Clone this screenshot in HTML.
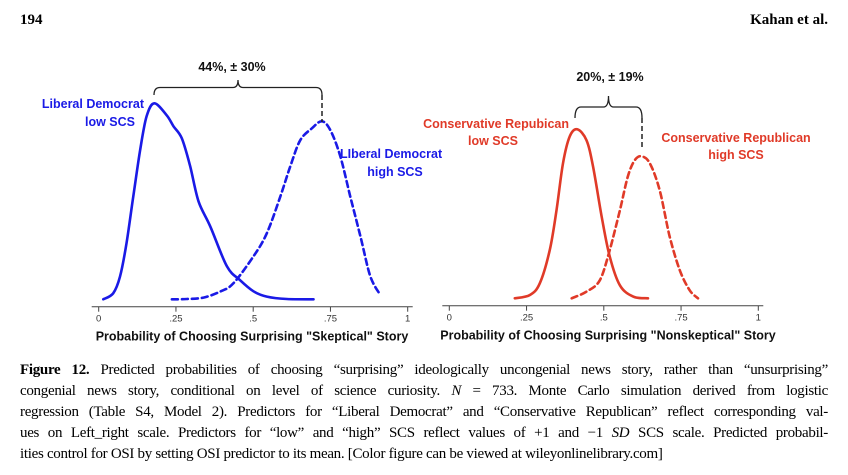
<!DOCTYPE html>
<html><head><meta charset="utf-8"><style>
body{margin:0;background:#fff;width:848px;height:475px;overflow:hidden;position:relative;font-family:"Liberation Serif",serif}
.hdr{position:absolute;top:12px;font-weight:bold;font-size:15px}
.cap{position:absolute;left:20px;width:808px;font-size:15px;letter-spacing:-0.3px;line-height:21px;white-space:nowrap}
.cap div{text-align:justify;text-align-last:justify;height:21px;white-space:normal}
.cap div.last{text-align-last:left}
</style></head><body>
<div class="hdr" style="left:20px">194</div>
<div class="hdr" style="right:20px">Kahan et al.</div>
<svg id="chart" width="848" height="350" style="position:absolute;left:0;top:0"></svg>
<div class="cap" style="top:360px">
<div><b>Figure 12.</b> Predicted probabilities of choosing “surprising” ideologically uncongenial news story, rather than “unsurprising”</div>
<div>congenial news story, conditional on level of science curiosity. <i>N</i> = 733. Monte Carlo simulation derived from logistic</div>
<div>regression (Table S4, Model 2). Predictors for “Liberal Democrat” and “Conservative Republican” reflect corresponding val-</div>
<div>ues on Left_right scale. Predictors for “low” and “high” SCS reflect values of +1 and −1 <i>SD</i> SCS scale. Predicted probabil-</div>
<div class="last">ities control for OSI by setting OSI predictor to its mean. [Color figure can be viewed at wileyonlinelibrary.com]</div>
</div>
<script>
const tickValues=[0,0.25,0.5,0.75,1];
const tickLabels=["0",".25",".5",".75","1"];
const libLowX=[0.015,0.047,0.069,0.09,0.112,0.134,0.155,0.18,0.22,0.242,0.269,0.296,0.323,0.361,0.415,0.458,0.501,0.544,0.609,0.695];
const libLowY=[0,6,22.7,56,103,149,183,196,184,173,161,133,98,73,33,19,8,2.7,0.3,0];
const libHighX=[0.237,0.285,0.339,0.393,0.436,0.501,0.544,0.588,0.62,0.652,0.69,0.722,0.75,0.782,0.814,0.847,0.879,0.912];
const libHighY=[0,0.3,1.7,7.7,16,43,66,103,133,159,171,178,169,143,103,63,23,4];
const conLowX=[0.212,0.261,0.293,0.325,0.347,0.368,0.39,0.414,0.444,0.465,0.493,0.519,0.552,0.595,0.643];
const conLowY=[0,3.3,15,48,88,135,162,169,158,132,82,42,13,1.7,0];
const conHighX=[0.396,0.444,0.487,0.519,0.552,0.578,0.6,0.622,0.649,0.681,0.713,0.746,0.778,0.805];
const conHighY=[0,6.7,18,48,88,122,138,142,135,108,62,28,8,0];

const NS="http://www.w3.org/2000/svg";
const svg=document.getElementById('chart');
function mk(tag,attrs,parent){const e=document.createElementNS(NS,tag);for(const k in attrs)e.setAttribute(k,attrs[k]);(parent||svg).appendChild(e);return e;}
const BLUE="#1a1ae6",RED="#e03a28",FONT='"Liberation Sans",sans-serif';
function smooth(pts){
  let d='M'+pts[0][0].toFixed(1)+','+pts[0][1].toFixed(1);
  for(let i=0;i<pts.length-1;i++){
    const p0=pts[Math.max(0,i-1)],p1=pts[i],p2=pts[i+1],p3=pts[Math.min(pts.length-1,i+2)];
    const c1=[p1[0]+(p2[0]-p0[0])/6,p1[1]+(p2[1]-p0[1])/6];
    const c2=[p2[0]-(p3[0]-p1[0])/6,p2[1]-(p3[1]-p1[1])/6];
    d+=` C${c1[0].toFixed(1)},${c1[1].toFixed(1)} ${c2[0].toFixed(1)},${c2[1].toFixed(1)} ${p2[0].toFixed(1)},${p2[1].toFixed(1)}`;
  }
  return d;
}
function panel(x0,axisY,baseY,name,title,titleX,series){
  const sx=v=>x0+v*309, sy=d=>baseY-d;
  const g=mk('g',{});
  
  
  const ax=mk('line',{x1:x0-7,x2:x0+314,y1:axisY,y2:axisY,stroke:'#444','stroke-width':1},g);
  
  
  tickValues.forEach((v,i)=>{
    const t=mk('line',{x1:sx(v),x2:sx(v),y1:axisY,y2:axisY+5,stroke:'#444'},g);
    
    
    const l=mk('text',{x:sx(v),y:axisY+15,'text-anchor':'middle','font-size':9.5,fill:'#333','font-family':FONT},g);
    l.textContent=tickLabels[i];
    
    
  });
  const tt=mk('text',{x:titleX,y:axisY+34,'text-anchor':'middle','font-size':12.5,'font-weight':'bold',fill:'#111','font-family':FONT},g);
  tt.textContent=title;
  
  
  series.forEach(s=>{
    const pts=s.xs.map((v,i)=>[sx(v),sy(s.ys[i])]);
    const p=mk('path',{d:smooth(pts),fill:'none',stroke:s.color,'stroke-width':2.6,'stroke-linejoin':'round','stroke-linecap':'round'},g);
    if(s.dash)p.setAttribute('stroke-dasharray','6,4');
    
    
  });
}
panel(98.7,306.7,299.3,'left-panel','Probability of Choosing Surprising "Skeptical" Story',252,[
 {xs:libLowX,ys:libLowY,color:BLUE,dash:false,name:'liberal-low-scs-curve'},
 {xs:libHighX,ys:libHighY,color:BLUE,dash:true,name:'liberal-high-scs-curve'}]);
panel(449.3,305.7,298.3,'right-panel','Probability of Choosing Surprising "Nonskeptical" Story',608,[
 {xs:conLowX,ys:conLowY,color:RED,dash:false,name:'conservative-low-scs-curve'},
 {xs:conHighX,ys:conHighY,color:RED,dash:true,name:'conservative-high-scs-curve'}]);

function bracket(x1,x2,top,bot,dashEnd,name){
  const c=(x1+x2)/2,m=(top+bot)/2;
  const p=mk('path',{d:`M${x1},${bot} Q${x1},${m} ${x1+6},${m} L${c-5},${m} Q${c},${m} ${c},${top} Q${c},${m} ${c+5},${m} L${x2-6},${m} Q${x2},${m} ${x2},${bot}`,fill:'none',stroke:'#222','stroke-width':1.3});
  
  
  const d=mk('line',{x1:x2,x2:x2,y1:bot,y2:dashEnd,stroke:'#222','stroke-width':1.5,'stroke-dasharray':'5,3'});
  
  
}
bracket(154,322,80,95,122,'liberal-bracket');
bracket(575,642,96,118,148,'conservative-bracket');
function label(x,y,txt,color,anchor,name,size){
  const t=mk('text',{x:x,y:y,'text-anchor':anchor,'font-size':size||12.5,'font-weight':'bold',fill:color,'font-family':FONT});
  t.textContent=txt;
  
  
}
label(232,71,'44%, ± 30%','#111','middle','liberal-difference-label');
label(610,81,'20%, ± 19%','#111','middle','conservative-difference-label');
label(144,108,'Liberal Democrat',BLUE,'end','liberal-low-label');
label(110,126,'low SCS',BLUE,'middle','liberal-low-label-2');
label(340,158,'LIberal Democrat',BLUE,'start','liberal-high-label');
label(395,176,'high SCS',BLUE,'middle','liberal-high-label-2');
label(569,128,'Conservative Repubican',RED,'end','conservative-low-label');
label(493,145,'low SCS',RED,'middle','conservative-low-label-2');
label(736,142,'Conservative Republican',RED,'middle','conservative-high-label');
label(736,159,'high SCS',RED,'middle','conservative-high-label-2');
</script>
</body></html>
